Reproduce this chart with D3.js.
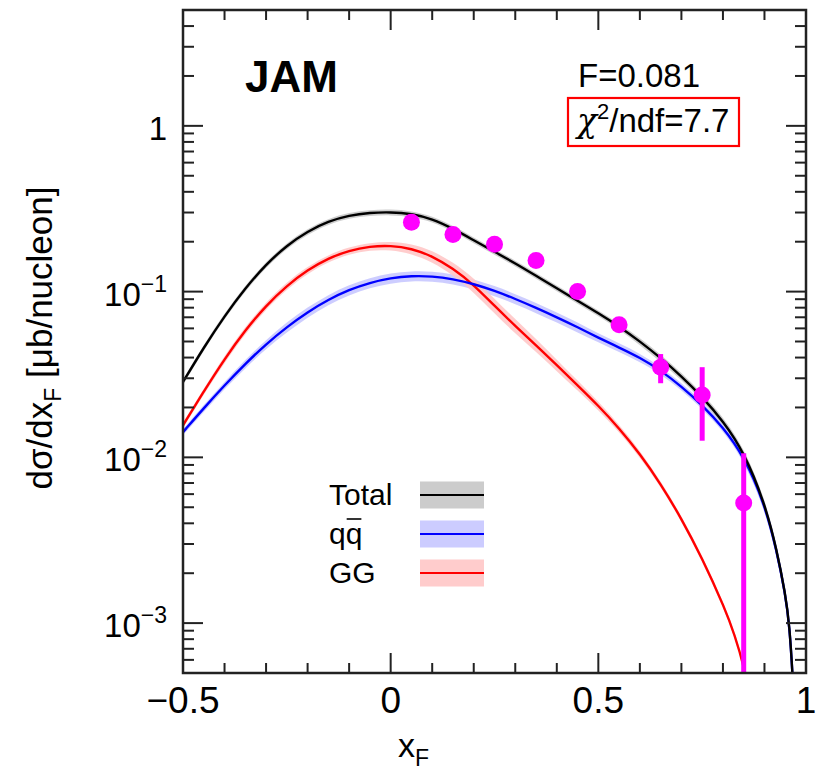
<!DOCTYPE html>
<html>
<head>
<meta charset="utf-8">
<script src="https://cdn.jsdelivr.net/npm/d3@7"></script>
<style>
  body { margin: 0; background: #fff; }
  svg { display: block; font-family: "Liberation Sans", Arial, sans-serif; }
</style>
</head>
<body>
<svg id="chart" width="823" height="771"></svg>
<script>
// x_F grid on which the theory curves are read
const xGrid = [-0.5, -0.45, -0.4, -0.35, -0.3, -0.25, -0.2, -0.15, -0.1, -0.05, 0, 0.05, 0.1, 0.15, 0.2, 0.25,
  0.3, 0.35, 0.4, 0.45, 0.5, 0.55, 0.6, 0.65, 0.7, 0.75, 0.8, 0.85, 0.9, 0.93, 0.95, 0.96, 0.97, 0.98];

const totalVals = [0.0285, 0.0460, 0.0713, 0.105, 0.146, 0.190, 0.231, 0.2655, 0.2884, 0.2992, 0.302, 0.295, 0.275, 0.240, 0.204, 0.174,
  0.148, 0.1245, 0.1047, 0.0881, 0.0741, 0.0617, 0.0501, 0.0398, 0.0309, 0.0232, 0.0166, 0.01084, 0.00537, 0.00275, 0.00151, 0.0010, 0.0004, 0.0001];
const qqVals = [0.0142, 0.0198, 0.0272, 0.0367, 0.0482, 0.0612, 0.0753, 0.0895, 0.1026, 0.1132, 0.1208, 0.1245, 0.1239, 0.1191, 0.1112, 0.1012,
  0.0904, 0.0798, 0.070, 0.061, 0.0527, 0.046, 0.040, 0.0335, 0.0268, 0.0207, 0.0152, 0.0102, 0.0053, 0.0027, 0.0015, 0.00099, 0.0004, 0.0001];
const ggVals = [0.0156, 0.025, 0.0392, 0.0586, 0.0824, 0.1086, 0.1352, 0.1589, 0.177, 0.1875, 0.1897, 0.182, 0.164, 0.138, 0.110, 0.082,
  0.062, 0.0475, 0.036, 0.0272, 0.0205, 0.0150, 0.0105, 0.00693, 0.00428, 0.00246, 0.00131, 0.00063, 0.00012, 0.00005, 0.00003, 0.00002, 0.00001, 0.00001];

// relative half-width of the uncertainty bands
const totalBand = [0.04, 0.04, 0.04, 0.04, 0.04, 0.04, 0.04, 0.04, 0.04, 0.04, 0.04, 0.04, 0.04, 0.04, 0.04, 0.04,
  0.04, 0.04, 0.04, 0.04, 0.04, 0.04, 0.05, 0.05, 0.05, 0.05, 0.06, 0.06, 0.07, 0.08, 0.09, 0.1, 0.1, 0.1];
const qqBand = [0.04, 0.05, 0.05, 0.06, 0.06, 0.07, 0.07, 0.07, 0.07, 0.07, 0.07, 0.07, 0.07, 0.07, 0.07, 0.07,
  0.07, 0.07, 0.07, 0.07, 0.06, 0.06, 0.06, 0.05, 0.05, 0.05, 0.05, 0.06, 0.07, 0.08, 0.09, 0.1, 0.1, 0.1];
const ggBand = [0.04, 0.04, 0.05, 0.05, 0.05, 0.05, 0.05, 0.05, 0.05, 0.05, 0.06, 0.07, 0.08, 0.09, 0.1, 0.1,
  0.1, 0.09, 0.08, 0.07, 0.06, 0.05, 0.05, 0.04, 0.04, 0.04, 0.04, 0.04, 0.04, 0.04, 0.04, 0.04, 0.04, 0.04];

// data points
const dataX = [0.05, 0.15, 0.25, 0.35, 0.45, 0.55, 0.65, 0.75, 0.85];
const dataY = [0.262, 0.221, 0.193, 0.154, 0.100, 0.063, 0.035, 0.0238, 0.0053];
const dataErr = [0.01, 0.008, 0.007, 0.005, 0.004, 0.003, 0.007, 0.0112, 0.0053];

const xTickMajor = [-0.5, 0, 0.5, 1];
const xTickLabels = ["\u22120.5", "0", "0.5", "1"];
const yTickMajor = [1e-3, 1e-2, 1e-1, 1];
const yTickExp = ["\u22123", "\u22122", "\u22121", ""];

const legendNames = ["Total", "qq", "GG"];
const legendLine = ["#000000", "#0000ff", "#ff0000"];
const legendFill = ["#cccccc", "#ccccff", "#ffcccc"];

const svg = d3.select("#chart");
const margin = { left: 183, right: 17, top: 10, bottom: 98 };
const W = 823, H = 771;

const x = d3.scaleLinear().domain([-0.5, 1]).range([margin.left, W - margin.right]);
const y = d3.scaleLog().domain([5e-4, 5]).range([H - margin.bottom, margin.top]);

svg.append("defs").append("clipPath").attr("id", "plotclip")
  .append("rect")
  .attr("x", margin.left).attr("y", margin.top)
  .attr("width", W - margin.left - margin.right)
  .attr("height", H - margin.top - margin.bottom);

const plot = svg.append("g").attr("clip-path", "url(#plotclip)");

const series = [
  { vals: totalVals, band: totalBand, line: "#000000", fill: "#c8c8c8" },
  { vals: qqVals, band: qqBand, line: "#0000ff", fill: "#c8c8ff" },
  { vals: ggVals, band: ggBand, line: "#ff0000", fill: "#ffc8c8" }
];

const area = d3.area()
  .x(d => x(d.x))
  .y0(d => y(d.lo))
  .y1(d => y(d.hi))
  .curve(d3.curveBasis);
const line = d3.line()
  .x(d => x(d.x))
  .y(d => y(d.v))
  .curve(d3.curveBasis);

series.forEach(s => {
  const pts = xGrid.map((xv, i) => ({ x: xv, v: s.vals[i], lo: s.vals[i] * (1 - s.band[i]), hi: s.vals[i] * (1 + s.band[i]) }));
  s.pts = pts;
  plot.append("path").datum(pts).attr("d", area).attr("fill", s.fill).attr("opacity", 0.9);
});
// lines after all bands: gg, qq, then total on top
[series[2], series[1], series[0]].forEach(s => {
  plot.append("path").datum(s.pts).attr("d", line)
    .attr("fill", "none").attr("stroke", s.line).attr("stroke-width", 2.4);
});

// data with error bars
const pts = dataX.map((xv, i) => ({ x: xv, y: dataY[i], e: dataErr[i] }));
plot.selectAll(".err").data(pts).enter().append("line")
  .attr("x1", d => x(d.x)).attr("x2", d => x(d.x))
  .attr("y1", d => y(Math.max(d.y - d.e, 1e-5)))
  .attr("y2", d => y(d.y + d.e))
  .attr("stroke", "#ff00ff").attr("stroke-width", 5);
plot.selectAll(".dot").data(pts).enter().append("circle")
  .attr("cx", d => x(d.x)).attr("cy", d => y(d.y)).attr("r", 8.5)
  .attr("fill", "#ff00ff");

// ticks on all four sides, pointing inward
const axes = svg.append("g").attr("stroke", "#222").attr("stroke-width", 2);
const xMinor = d3.range(-4, 10).map(i => i / 10).filter(v => Math.abs(v * 2 - Math.round(v * 2)) > 1e-6);
const x0 = margin.left, x1 = W - margin.right, y0 = H - margin.bottom, y1 = margin.top;
xTickMajor.forEach(v => {
  axes.append("line").attr("x1", x(v)).attr("x2", x(v)).attr("y1", y0).attr("y2", y0 - 20);
  axes.append("line").attr("x1", x(v)).attr("x2", x(v)).attr("y1", y1).attr("y2", y1 + 20);
});
xMinor.forEach(v => {
  axes.append("line").attr("x1", x(v)).attr("x2", x(v)).attr("y1", y0).attr("y2", y0 - 10);
  axes.append("line").attr("x1", x(v)).attr("x2", x(v)).attr("y1", y1).attr("y2", y1 + 10);
});
const yMinor = [];
[-4, -3, -2, -1, 0].forEach(p => d3.range(2, 10).forEach(k => {
  const v = k * Math.pow(10, p);
  if (v > 5e-4 && v < 5) yMinor.push(v);
}));
yTickMajor.forEach(v => {
  axes.append("line").attr("x1", x0).attr("x2", x0 + 20).attr("y1", y(v)).attr("y2", y(v));
  axes.append("line").attr("x1", x1).attr("x2", x1 - 20).attr("y1", y(v)).attr("y2", y(v));
});
yMinor.forEach(v => {
  axes.append("line").attr("x1", x0).attr("x2", x0 + 11).attr("y1", y(v)).attr("y2", y(v));
  axes.append("line").attr("x1", x1).attr("x2", x1 - 11).attr("y1", y(v)).attr("y2", y(v));
});
svg.append("rect").attr("x", x0).attr("y", y1).attr("width", x1 - x0).attr("height", y0 - y1)
  .attr("fill", "none").attr("stroke", "#222").attr("stroke-width", 2.5);

// tick labels
svg.append("g").selectAll("text").data(xTickMajor).enter().append("text")
  .attr("x", d => x(d)).attr("y", 713)
  .attr("text-anchor", "middle").attr("font-size", 37)
  .text((d, i) => xTickLabels[i]);

const yl = svg.append("g").selectAll("text").data(yTickMajor).enter().append("text")
  .attr("x", 167).attr("y", d => y(d) + 14)
  .attr("text-anchor", "end").attr("font-size", 33);
yl.each(function(d, i) {
  const t = d3.select(this);
  if (yTickExp[i] === "") { t.text("1"); return; }
  t.append("tspan").text("10");
  t.append("tspan").attr("dy", -14).attr("font-size", 23).text(yTickExp[i]);
});

// axis titles
const xt = svg.append("text").attr("x", 398).attr("y", 757).attr("font-size", 34);
xt.append("tspan").text("x");
xt.append("tspan").attr("dy", 9).attr("font-size", 23).text("F");

const ytl = svg.append("text").attr("transform", "translate(52,338) rotate(-90)")
  .attr("text-anchor", "middle").attr("font-size", 35);
ytl.append("tspan").text("d\u03c3/dx");
ytl.append("tspan").attr("dy", 9).attr("font-size", 23).text("F");
ytl.append("tspan").attr("dy", -9).text(" [\u03bcb/nucleon]");

// annotations
svg.append("text").attr("x", 245).attr("y", 92).attr("font-size", 44).attr("font-weight", "bold").text("JAM");
svg.append("text").attr("x", 578).attr("y", 87).attr("font-size", 33).text("F=0.081");
const chi = svg.append("text").attr("x", 577).attr("y", 132).attr("font-size", 33);
chi.append("tspan").attr("font-family", "DejaVu Serif, serif").attr("font-style", "italic").text("\u03c7");
chi.append("tspan").attr("dy", -13).attr("font-size", 22).text("2");
chi.append("tspan").attr("dy", 13).text("/ndf=7.7");
svg.append("rect").attr("x", 568).attr("y", 98).attr("width", 171).attr("height", 48)
  .attr("fill", "none").attr("stroke", "#ff0000").attr("stroke-width", 2.2);

// legend
const leg = svg.append("g");
legendNames.forEach((name, i) => {
  const cy = 495 + i * 39;
  const t = leg.append("text").attr("x", 329).attr("y", cy + 10).attr("font-size", 30).text(name);
  if (name === "qq") {
    const n = t.node();
    const a = n.getStartPositionOfChar(1).x, b = n.getEndPositionOfChar(1).x;
    leg.append("line").attr("x1", a + 1).attr("x2", b - 1).attr("y1", cy - 15).attr("y2", cy - 15)
      .attr("stroke", "#000").attr("stroke-width", 1.6);
  }
  leg.append("rect").attr("x", 420).attr("y", cy - 13.5).attr("width", 64).attr("height", 27)
    .attr("fill", legendFill[i]);
  leg.append("line").attr("x1", 420).attr("x2", 484).attr("y1", cy).attr("y2", cy)
    .attr("stroke", legendLine[i]).attr("stroke-width", 1.8);
});
</script>
</body>
</html>
